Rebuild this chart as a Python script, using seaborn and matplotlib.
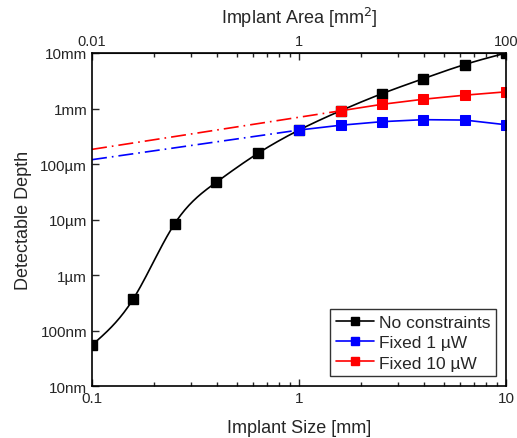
import numpy as np
import matplotlib
matplotlib.use("Agg")
import matplotlib.pyplot as plt
import seaborn as sns
from matplotlib.lines import Line2D
from matplotlib.ticker import FixedLocator, NullFormatter, NullLocator

# implant size [mm] and detectable depth [m]
size_all = [0.1, 0.158, 0.251, 0.398, 0.631, 1.0, 1.585, 2.512, 3.981, 6.31, 10.0]
depth_none = [5.5e-8, 3.7e-7, 8.5e-6, 4.7e-5, 1.55e-4, 4.1e-4, 9.1e-4, 1.85e-3, 3.45e-3, 6.2e-3, 1.0e-2]

size_1uw = [1.0, 1.585, 2.512, 3.981, 6.31, 10.0]
depth_1uw = [4.1e-4, 5.0e-4, 5.8e-4, 6.3e-4, 6.2e-4, 5.1e-4]
size_1uw_ext = [0.1, 1.0]
depth_1uw_ext = [1.2e-4, 4.1e-4]

size_10uw = [1.585, 2.512, 3.981, 6.31, 10.0]
depth_10uw = [9.1e-4, 1.19e-3, 1.47e-3, 1.74e-3, 2.0e-3]
size_10uw_ext = [0.1, 1.585]
depth_10uw_ext = [1.84e-4, 9.1e-4]

ytick_vals = [1e-8, 1e-7, 1e-6, 1e-5, 1e-4, 1e-3, 1e-2]
ytick_labels = ["10nm", "100nm", "1\u00b5m", "10\u00b5m", "100\u00b5m", "1mm", "10mm"]


def smooth(xs, ys, n=300):
    # natural cubic spline through the points in log-log space (line only)
    x = np.log10(xs)
    y = np.log10(ys)
    k = len(x)
    h = np.diff(x)
    A = np.zeros((k, k))
    r = np.zeros(k)
    A[0, 0] = A[-1, -1] = 1
    for i in range(1, k - 1):
        A[i, i - 1] = h[i - 1]
        A[i, i] = 2 * (h[i - 1] + h[i])
        A[i, i + 1] = h[i]
        r[i] = 3 * ((y[i + 1] - y[i]) / h[i] - (y[i] - y[i - 1]) / h[i - 1])
    c = np.linalg.solve(A, r)
    xf = np.linspace(x[0], x[-1], n)
    idx = np.clip(np.searchsorted(x, xf) - 1, 0, k - 2)
    dx = xf - x[idx]
    b = (y[1:] - y[:-1]) / h - h * (2 * c[:-1] + c[1:]) / 3
    d = (c[1:] - c[:-1]) / (3 * h)
    yf = y[idx] + b[idx] * dx + c[idx] * dx ** 2 + d[idx] * dx ** 3
    return 10 ** xf, 10 ** yf


sns.set_style("ticks")
plt.rcParams["font.family"] = ["Liberation Sans", "DejaVu Sans"]

fig = plt.figure(figsize=(5.17, 4.39), dpi=100)
ax = fig.add_axes([0.178, 0.118, 0.801, 0.759])

xs, ys = smooth(size_all, depth_none)
sns.lineplot(x=xs, y=ys, color="black", lw=1.2, ax=ax)
ax.plot(size_all, depth_none, ls="none", marker="s", ms=6.5, color="black")

dashdot = (0, (9, 3, 1, 3))
ax.plot(size_1uw_ext, depth_1uw_ext, color="blue", lw=1.2, ls=dashdot)
ax.plot(size_10uw_ext, depth_10uw_ext, color="red", lw=1.2, ls=dashdot)
sns.lineplot(x=size_1uw, y=depth_1uw, color="blue", lw=1.2, marker="s",
             markersize=6.5, markeredgecolor="blue", ax=ax)
sns.lineplot(x=size_10uw, y=depth_10uw, color="red", lw=1.2, marker="s",
             markersize=6.5, markeredgecolor="red", ax=ax)

ax.set_xscale("log")
ax.set_yscale("log")
ax.set_xlim(0.1, 10)
ax.set_ylim(1e-8, 1e-2)

ax.set_xticks([0.1, 1, 10])
ax.set_xticklabels(["0.1", "1", "10"])
ax.xaxis.set_minor_locator(FixedLocator([m * b for b in (0.1, 1) for m in range(2, 10)]))
ax.xaxis.set_minor_formatter(NullFormatter())
ax.set_yticks(ytick_vals)
ax.set_yticklabels(ytick_labels)
ax.yaxis.set_minor_locator(NullLocator())
ax.tick_params(axis="both", which="major", direction="in", length=5, width=1, labelsize=11)
ax.tick_params(axis="x", which="minor", direction="in", length=3, width=1)
for s in ax.spines.values():
    s.set_linewidth(1.2)
    s.set_color("black")

ax.set_xlabel("Implant Size [mm]", fontsize=13, labelpad=10)
ax.set_ylabel("Detectable Depth", fontsize=13, labelpad=6)

top = ax.secondary_xaxis("top", functions=(lambda x: x ** 2, lambda a: np.sqrt(a)))
top.set_xticks([0.01, 1, 100])
top.set_xticklabels(["0.01", "1", "100"])
top.xaxis.set_minor_locator(FixedLocator([(m * b) ** 2 for b in (0.1, 1) for m in range(2, 10)]))
top.xaxis.set_minor_formatter(NullFormatter())
top.tick_params(axis="x", which="major", direction="in", length=5, width=1, labelsize=10.5)
top.tick_params(axis="x", which="minor", direction="in", length=3, width=1)
top.set_xlabel("Implant Area [mm$^2$]", fontsize=13, labelpad=8)

handles = [
    Line2D([], [], color="black", marker="s", ms=6, lw=1.2),
    Line2D([], [], color="blue", marker="s", ms=6, lw=1.2),
    Line2D([], [], color="red", marker="s", ms=6, lw=1.2),
]
leg = ax.legend(handles, ["No constraints", "Fixed 1 \u00b5W", "Fixed 10 \u00b5W"],
                loc="lower right", fontsize=12.5, frameon=True, fancybox=False,
                edgecolor="black", handlelength=2.2, handletextpad=0.3,
                labelspacing=0.3, borderpad=0.3, borderaxespad=0.6)
leg.get_frame().set_linewidth(1.0)

fig.savefig("out.png", dpi=100)
